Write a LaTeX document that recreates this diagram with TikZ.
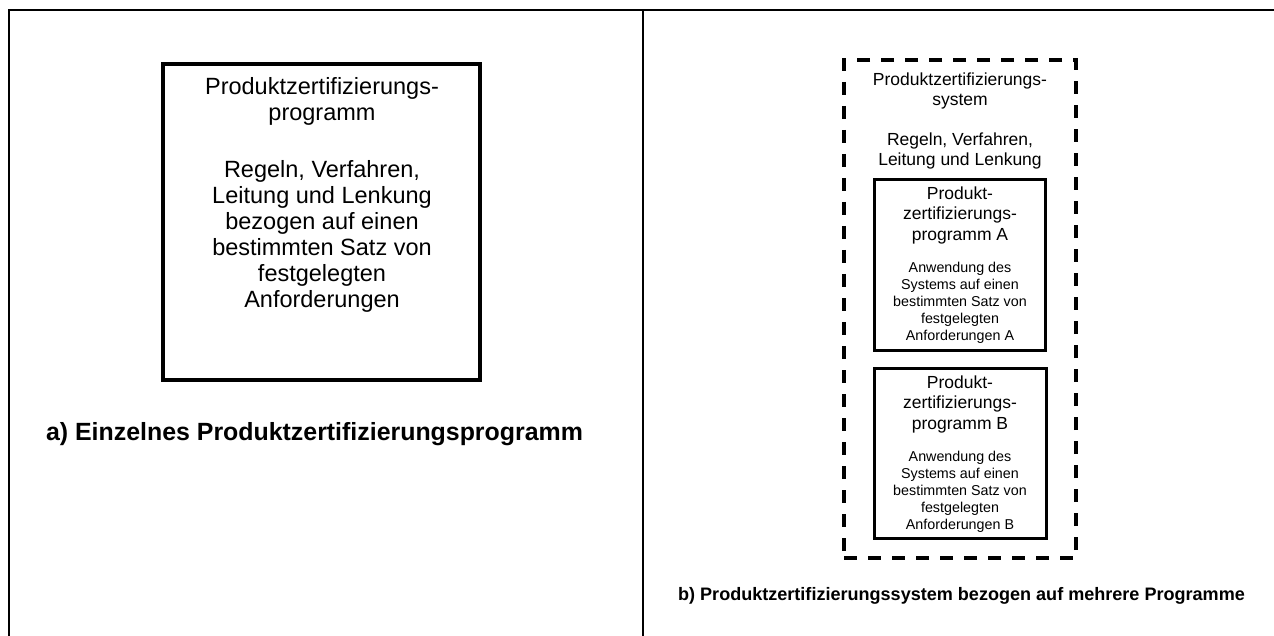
\documentclass[tikz,border=0pt]{standalone}
\usepackage{fontspec}
\setmainfont{Liberation Sans}
\begin{document}
\begin{tikzpicture}[x=1pt,y=-1pt,
  frameline/.style={line width=2.5pt},
  bigbox/.style={draw,line width=4.5pt,rectangle,inner sep=0pt},
  sysbox/.style={draw,line width=4pt,rectangle,inner sep=0pt,dash pattern=on 13pt off 11pt},
  progbox/.style={draw,line width=3pt,rectangle,inner sep=0pt},
  bigtxt/.style={align=center,inner sep=0pt,font=\fontsize{23.5}{26}\selectfont},
  midtxt/.style={align=center,inner sep=0pt,font=\fontsize{17.5}{20.5}\selectfont},
  smalltxt/.style={align=center,inner sep=0pt,font=\fontsize{14.3}{17}\selectfont},
  capA/.style={inner sep=0pt,font=\fontsize{24.9}{28}\selectfont\bfseries},
  capB/.style={inner sep=0pt,font=\fontsize{18.05}{21}\selectfont\bfseries}]
\useasboundingbox (0,0) rectangle (1274,636);
% frame
\coordinate (ftl) at (9,10);
\coordinate (ftr) at (1274,10);
\coordinate (fbl) at (9,636);
\coordinate (mtop) at (643,10);
\coordinate (mbot) at (643,636);
\draw[frameline] (fbl) -- (ftl) -- (ftr);
\draw[frameline] (mtop) -- (mbot);
% left panel
\node[bigbox,minimum width=317pt,minimum height=316pt] (single) at (321.5,222) {};
\node[bigtxt] (singletitle) at (322,101.5) {Produktzertifizierungs-\\programm};
\node[bigtxt] (singlebody) at (322,236.5) {Regeln, Verfahren,\\Leitung und Lenkung\\bezogen auf einen\\bestimmten Satz von\\festgelegten\\Anforderungen};
\node[capA] (capa) at (314.5,434) {a) Einzelnes Produktzertifizierungsprogramm};
% right panel
\node[sysbox,minimum width=232pt,minimum height=498pt] (system) at (960,309) {};
\node[midtxt] (systitle) at (960,91) {Produktzertifizierungs-\\system};
\node[midtxt] (sysbody) at (960,151) {Regeln, Verfahren,\\Leitung und Lenkung};
\node[progbox,minimum width=171pt,minimum height=171pt] (progA) at (960,265) {};
\node[midtxt] (progAtitle) at (960,215) {Produkt-\\zertifizierungs-\\programm A};
\node[smalltxt] (progAbody) at (960,303) {Anwendung des\\Systems auf einen\\bestimmten Satz von\\festgelegten\\Anforderungen A};
\node[progbox,minimum width=172pt,minimum height=170pt] (progB) at (960.5,453.5) {};
\node[midtxt] (progBtitle) at (960,404) {Produkt-\\zertifizierungs-\\programm B};
\node[smalltxt] (progBbody) at (960,492) {Anwendung des\\Systems auf einen\\bestimmten Satz von\\festgelegten\\Anforderungen B};
\node[capB] (capb) at (961.5,596) {b) Produktzertifizierungssystem bezogen auf mehrere Programme};
\end{tikzpicture}
\end{document}
